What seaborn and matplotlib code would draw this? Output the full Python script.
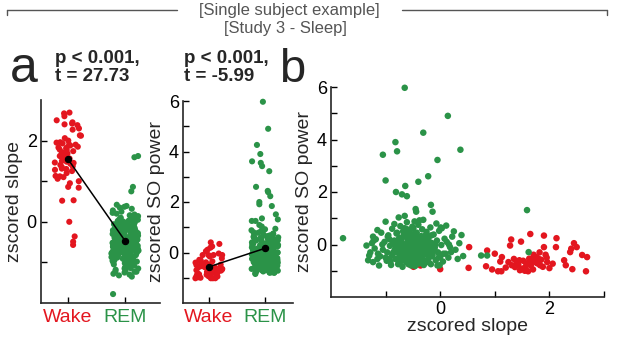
import numpy as np
import pandas as pd
import matplotlib
matplotlib.use("Agg")
import matplotlib.pyplot as plt
from matplotlib.lines import Line2D
import seaborn as sns

# ---------------- data ----------------
states = ["Wake", "REM"]
state_colors = {"Wake": "#e3161f", "REM": "#2b9348"}

wake_slope = [0.00, 0.53, 0.52, 0.86, 0.84, 1.00, 1.06, 1.12, 1.13, 1.30,
              1.28, 1.48, 1.25, 1.31, 1.37, 1.43, 1.46, 1.56, 1.61, 1.63,
              1.71, 1.74, 1.80, 1.83, 1.90, 1.90, 1.93, 1.96, 2.06, 2.13,
              2.12, 2.27, 2.30, 2.38, 2.40, 2.50, 2.42, 2.69, 2.67, 1.40,
              1.52, 1.58, 1.66, 1.70, 1.76, 1.85, 1.88, 1.50, 1.35, 1.20,
              1.62, 1.78, 2.00, 1.95, 1.68, 1.55, 1.45, -0.36, -0.49, -0.57,
              2.60, 2.45, 1.10, 0.95, 1.65, 1.82]
wake_so = [-0.94, -0.10, -0.89, -0.23, -0.83, -0.35, -1.02, -1.02, -0.48, 0.19,
           -0.04, 0.11, -0.67, -0.79, -0.86, -0.77, -0.98, -0.86, -1.02, -0.54,
           -0.39, -0.67, -0.54, -0.79, -0.10, 0.34, -0.39, -0.67, -0.73, 0.24,
           -0.10, -0.60, -0.79, -0.29, -0.16, -0.10, -0.94, -0.48, -1.02, -0.70,
           -0.62, -0.75, -0.80, -0.95, -0.48, -0.58, -0.85, -0.92, -0.55, -0.88,
           -0.68, -0.72, -0.90, -0.50, -0.58, -1.00, -0.60, -0.80, -0.85, -0.75,
           -0.40, 0.05, -0.65, -0.95, 0.40, -0.30]

rem_slope = [-1.78, -0.65, 0.14, -0.31, -0.82, -0.79, -1.05, 0.37, -0.05, -0.22,
             -1.00, -0.40, -0.64, -0.81, -0.70, -0.61, -0.45, -0.44, -0.17, -0.14,
             -0.31, -0.65, -0.76, 1.59, -1.00, -1.15, -1.23, -1.35, -1.30, -1.23,
             0.03, 0.25, 0.39, 0.42, 0.20, 0.75, 0.86, 1.62, -0.01,
             -1.10, -1.05, -1.02, -0.98, -0.95, -0.92, -0.90, -0.88, -0.86, -0.84,
             -0.82, -0.80, -0.78, -0.76, -0.75, -0.73, -0.72, -0.70, -0.69, -0.68,
             -0.66, -0.65, -0.64, -0.62, -0.61, -0.60, -0.59, -0.58, -0.57, -0.56,
             -0.55, -0.54, -0.53, -0.52, -0.51, -0.50, -0.49, -0.48, -0.47, -0.46,
             -0.45, -0.44, -0.43, -0.42, -0.41, -0.40, -0.39, -0.38, -0.37, -0.36,
             -0.35, -0.34, -0.33, -0.32, -0.30, -0.29, -0.28, -0.27, -0.25, -0.24,
             -0.22, -0.21, -0.20, -0.18, -0.17, -0.15, -0.14, -0.12, -0.10, -0.08,
             -0.06, -0.04, -0.02, 0.00, 0.02, 0.05, 0.08, 0.10, 0.12, 0.15,
             0.18, 0.22, 0.28, 0.32, 0.35,
             -1.20, -1.18, -1.15, -1.12, -1.08, -1.28, -1.25,
             -0.72, -0.68, -0.63, -0.60, -0.58, -0.55, -0.52, -0.50, -0.48, -0.46,
             -0.44, -0.42, -0.40, -0.38, -0.36, -0.62, -0.57, -0.53, -0.49, -0.45,
             -0.80, -0.78, -0.75, -0.70, -0.67, -0.85, -0.88, -0.93, -0.97, -0.65,
             -0.30, -0.26, -0.23, -0.19, -0.16, -0.13, -0.09, -0.05, -0.33, -0.28,
             -1.32, -1.22, -1.14, -1.06, -1.00, -0.96, -0.91, -0.87, -0.83, -0.79,
             -0.77, -0.74, -0.71, -0.69, -0.67, -0.64, -0.62, -0.60, -0.58, -0.56,
             -0.54, -0.52, -0.50, -0.48, -0.47, -0.45, -0.43, -0.41, -0.39, -0.37,
             -0.35, -0.33, -0.31, -0.29, -0.27, -0.24, -0.21, -0.18, -0.15, -0.11,
             -0.07, -0.03, 0.01, 0.06, 0.11, 0.16, -0.59, -0.53, -0.47, -0.41,
             -0.66, -0.72, -0.84, -0.94, -0.51, -0.44, -0.38, -0.56, -0.61, -0.70]
rem_so = [0.24, 5.97, 4.90, 4.26, 3.90, 3.55, 3.42, 3.61, 3.22, 2.60,
          2.44, 2.39, 2.23, 2.00, 1.91, 1.84, 1.35, 1.25, 1.51, 1.25,
          0.94, 1.09, 1.03, 1.31, 0.87, 0.55, 0.30, -0.04, -0.42, -0.67,
          0.62, 0.50, 0.36, -0.44, -0.29, -0.42, -0.42, -0.29, -0.79,
          -0.45, -0.20, 0.10, -0.62, 0.35, -0.05, -0.78, 0.60, -0.30, 0.15,
          -0.55, 0.42, -0.12, -0.70, 0.25, 0.70, -0.38, 0.05, -0.85, 0.50,
          -0.22, -0.60, 0.30, -0.02, 0.85, -0.45, 0.18, -0.75, -0.28, 0.55,
          -0.10, -0.52, 0.08, 0.38, -0.68, -0.18, 0.62, -0.40, 0.00, -0.82,
          0.22, -0.30, 0.45, -0.58, -0.08, 0.75, -0.48, 0.12, -0.25, -0.70,
          0.32, -0.15, 0.58, -0.42, 0.02, -0.62, 0.20, -0.32, 0.48, -0.05,
          -0.55, 0.28, -0.22, 0.65, -0.75, 0.05, -0.40, 0.38, -0.12, -0.60,
          0.15, -0.30, 0.52, -0.48, -0.02, -0.65, 0.22, -0.35, 0.10, -0.50,
          -0.10, 0.30, -0.20, -0.55, 0.05,
          -0.15, 0.20, -0.55, -0.80, 0.45, -0.30, 0.05,
          -0.15, -0.32, -0.50, 0.10, -0.05, -0.35, -0.25, 0.15, -0.62, -0.12,
          0.05, -0.20, -0.38, -0.55, 0.10, -0.68, 0.40, -0.80, 0.30, -0.70,
          -0.30, 0.10, -0.48, -0.62, 0.35, 0.00, -0.42, 0.20, -0.30, 0.62,
          -0.78, 0.10, -0.40, -0.15, 0.35, -0.25, 0.00, -0.80, -0.30, -0.10,
          -0.60, 0.15, -0.35, 0.00, -0.50, 0.30, -0.65, 0.10, -0.20, 0.45,
          -0.75, -0.05, 0.20, -0.45, 0.00, -0.25, 0.48, -0.58, 0.25, -0.42,
          0.12, -0.65, -0.30, 0.05, 0.42, -0.55, -0.15, 0.28, -0.72, -0.05,
          -0.45, 0.18, -0.60, -0.25, 0.35, -0.10, -0.68, 0.08, -0.45, -0.20,
          0.80, -0.50, 0.65, -0.35, 0.72, 0.00, 0.55, -0.40, 0.88, -0.50,
          0.60, -0.25, 0.78, -0.55, 0.68, -0.35, 0.92, -0.15, 0.58, -0.40]

df = pd.concat([
    pd.DataFrame({"state": "Wake", "slope": wake_slope, "so": wake_so}),
    pd.DataFrame({"state": "REM", "slope": rem_slope, "so": rem_so}),
], ignore_index=True)

# ---------------- style ----------------
sns.set_style("white")
plt.rcParams["font.family"] = ["Liberation Sans", "DejaVu Sans"]
plt.rcParams["axes.linewidth"] = 1.2

np.random.seed(3)

W, H = 617, 338
fig = plt.figure(figsize=(W / 100, H / 100), dpi=100)


def px_axes(left, right, top, bottom):
    return fig.add_axes([left / W, 1 - bottom / H, (right - left) / W, (bottom - top) / H])


ax1 = px_axes(41, 160, 100, 303)
ax2 = px_axes(183, 293, 101, 303)
ax3 = px_axes(331, 604, 87, 297)

FS_TICK = 13
FS_LAB = 14


def style_axes(ax):
    for s in ["top", "right"]:
        ax.spines[s].set_visible(False)
    ax.tick_params(which="both", direction="in", length=4, width=1, labelsize=FS_TICK,
                   colors="black", pad=3, bottom=True, left=True, top=False, right=False)
    for coll in ax.collections:
        coll.set_clip_on(False)


for ax, col, ylab, ylim, major, minor, xl in [
    (ax1, "slope", "zscored slope", (-2, 3), [0, 2], [-1, 1], (-0.47, 1.61)),
    (ax2, "so", "zscored SO power", (-2, 6), [0, 2, 4, 6], [-1, 1, 3, 5], (-0.46, 1.5)),
]:
    sns.stripplot(data=df, x="state", y=col, hue="state", order=states, hue_order=states,
                  palette=state_colors, jitter=0.24, size=4.4, linewidth=0,
                  legend=False, ax=ax, zorder=2)
    sns.pointplot(data=df, x="state", y=col, order=states, color="black", errorbar=None,
                  markersize=4.5, linewidth=1.1, ax=ax)
    for ln in ax.lines:
        ln.set_zorder(5)
    ax.set_xlim(*xl)
    ax.set_ylim(*ylim)
    ax.set_yticks(major)
    ax.set_yticks(minor, minor=True)
    ax.set_xlabel("")
    ax.set_ylabel(ylab, fontsize=FS_LAB, labelpad=3)
    style_axes(ax)
    ax.tick_params(axis="x", labelsize=14, pad=4)
    for lbl in ax.get_xticklabels():
        lbl.set_color(state_colors[lbl.get_text()])

# panel b
sns.scatterplot(data=df, x="slope", y="so", hue="state", hue_order=states,
                palette=state_colors, s=22, linewidth=0, legend=False, ax=ax3)
ax3.set_xlim(-2, 3)
ax3.set_ylim(-2, 6)
ax3.set_xticks([0, 2])
ax3.set_xticks([-1, 1, 3], minor=True)
ax3.set_yticks([0, 2, 4, 6])
ax3.set_yticks([-1, 1, 3, 5], minor=True)
ax3.set_xlabel("zscored slope", fontsize=FS_LAB, labelpad=0)
ax3.set_ylabel("zscored SO power", fontsize=FS_LAB, labelpad=3)
style_axes(ax3)

# ---------------- header and annotations ----------------
def fx(x):
    return x / W


def fy(y):
    return 1 - y / H


gray = "#555555"
fig.add_artist(Line2D([fx(7), fx(177)], [fy(10), fy(10)], color=gray, lw=1.0))
fig.add_artist(Line2D([fx(7), fx(7)], [fy(10), fy(15)], color=gray, lw=1.0))
fig.add_artist(Line2D([fx(402), fx(607)], [fy(10), fy(10)], color=gray, lw=1.0))
fig.add_artist(Line2D([fx(607), fx(607)], [fy(10), fy(15)], color=gray, lw=1.0))
fig.text(fx(289), fy(10), "[Single subject example]", ha="center", va="center",
         fontsize=12, color=gray)
fig.text(fx(285), fy(28), "[Study 3 - Sleep]", ha="center", va="center",
         fontsize=12, color=gray)

fig.text(fx(10), fy(82), "a", fontsize=36, ha="left", va="baseline")
fig.text(fx(279), fy(82), "b", fontsize=34, ha="left", va="baseline")
fig.text(fx(55), fy(50), "p < 0.001,\nt = 27.73", fontsize=13.5, fontweight="bold",
         ha="left", va="top", linespacing=1.05)
fig.text(fx(184), fy(50), "p < 0.001,\nt = -5.99", fontsize=13.5, fontweight="bold",
         ha="left", va="top", linespacing=1.05)

fig.savefig("out.png", dpi=100, facecolor="white")
